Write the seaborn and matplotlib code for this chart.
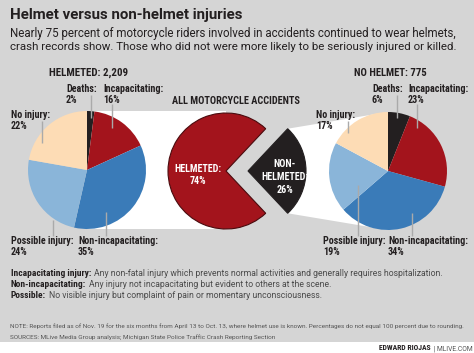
import matplotlib
matplotlib.use("Agg")
import matplotlib.pyplot as plt
from matplotlib import font_manager as fm
from matplotlib.patches import Rectangle, Polygon
import numpy as np
import seaborn as sns

# ---------------- data ----------------
categories = ["Deaths", "Incapacitating", "Non-incapacitating", "Possible injury", "No injury"]
helmeted_pct = [2, 16, 35, 24, 22]
no_helmet_pct = [6, 23, 34, 19, 17]
overall_labels = ["HELMETED", "NON-HELMETED"]
overall_pct = [74, 26]
helmeted_total = "2,209"
no_helmet_total = "775"

title = "Helmet versus non-helmet injuries"
subtitle = ["Nearly 75 percent of motorcycle riders involved in accidents continued to wear helmets,",
            "crash records show. Those who did not were more likely to be seriously injured or killed."]
definitions = [("Incapacitating injury:", "Any non-fatal injury which prevents normal activities and generally requires hospitalization."),
               ("Non-incapacitating:", "Any injury not incapacitating but evident to others at the scene."),
               ("Possible:", "No visible injury but complaint of pain or momentary unconsciousness.")]
note = ("NOTE: Reports filed as of Nov. 19 for the six months from April 13 to Oct. 13, where helmet use is known. "
        "Percentages do not equal 100 percent due to rounding.")
sources = "SOURCES: MLive Media Group analysis; Michigan State Police Traffic Crash Reporting Section"
credit_bold = "EDWARD RIOJAS"
credit_reg = " | MLIVE.COM"

# ---------------- style ----------------
sns.set_theme(style="white")
names = {f.name for f in fm.fontManager.ttflist}
def pick(cands):
    for c in cands:
        if c in names:
            return c
    return "DejaVu Sans"
COND = pick(["Liberation Sans Narrow", "Roboto Condensed", "Roboto", "Open Sans"])
REG = pick(["Roboto", "Open Sans", "Lato", "DejaVu Sans"])
plt.rcParams["font.family"] = [REG, "DejaVu Sans"]

pal = sns.color_palette(["#231f20", "#a3141c", "#3a7bb8", "#8ab5d9", "#fddcb5"])
RED = pal[1]
BLACK = pal[0]
GRAY = "#d5d5d5"
DARK = "#231f20"

W, H = 474, 353
fig = plt.figure(figsize=(W / 100, H / 100), dpi=100)
fig.patch.set_facecolor("white")
ax = fig.add_axes([0, 0, 1, 1])
renderer = fig.canvas.get_renderer()

def Y(y):
    return H - y

def txt(x, y, s, size=7, width=None, ha="left", va="baseline", **kw):
    t = ax.text(x, Y(y), s, fontsize=size, ha=ha, va=va, zorder=6, **kw)
    if width is not None:
        w = t.get_window_extent(renderer).width
        t.set_fontsize(size * width / w)
    return t

def width_of(t):
    return t.get_window_extent(renderer).width

# background panel
ax.add_patch(Rectangle((0, Y(342)), W, 342, color=GRAY, zorder=0, lw=0))

# layout constants
LC, LR = (87, 170), 59
MC, MR = (226, 171), 58
RC, RR = (388, 171), 59
explode_px = 22

# white connector behind left pie -> middle pie
ax.add_patch(Rectangle((LC[0], Y(LC[1] + LR)), MC[0] - LC[0], 2 * LR, color="white", lw=0, zorder=1))

# white connector from exploded black wedge -> right pie
half = overall_pct[1] / sum(overall_pct) * 180
bx = MC[0] + explode_px
tip_dx = MR * np.cos(np.radians(half))
tip_dy = MR * np.sin(np.radians(half))
poly = [(bx + tip_dx, Y(MC[1] - tip_dy)), (RC[0], Y(RC[1] - RR)),
        (RC[0], Y(RC[1] + RR)), (bx + tip_dx, Y(MC[1] + tip_dy))]
ax.add_patch(Polygon(poly, closed=True, color="white", lw=0, zorder=1))

# pies
ax.pie(helmeted_pct, colors=pal, startangle=90, counterclock=False,
       center=(LC[0], Y(LC[1])), radius=LR, wedgeprops=dict(linewidth=0, zorder=2))
ax.pie(no_helmet_pct, colors=pal, startangle=90, counterclock=False,
       center=(RC[0], Y(RC[1])), radius=RR, wedgeprops=dict(linewidth=0, zorder=2))
wedges, _ = ax.pie(overall_pct, colors=[RED, BLACK], startangle=half, counterclock=True,
                   explode=[0, explode_px], center=(MC[0], Y(MC[1])), radius=MR,
                   wedgeprops=dict(linewidth=0.8, edgecolor="#4a0b0e", zorder=2))
wedges[1].set_edgecolor(BLACK)

ax.set_xlim(0, W)
ax.set_ylim(0, H)
ax.set_aspect("auto")
ax.axis("off")

# title / subtitle
txt(10, 19.5, title, size=10, width=233, weight="bold", color=DARK)
txt(10, 37.3, subtitle[0], size=7, width=447, color=DARK)
txt(10, 50.2, subtitle[1], size=7, width=445, color=DARK)

# headers
cond = dict(family=[COND, "DejaVu Sans"], weight="bold", color=DARK)
h1 = txt(88.5, 76, f"HELMETED: {helmeted_total}", size=8, width=73, ha="center", **cond)
h1.set_fontsize(h1.get_fontsize() * 1.08)
h2 = txt(390.5, 76, f"NO HELMET: {no_helmet_total}", size=8, width=67, ha="center", **cond)
h2.set_fontsize(h2.get_fontsize() * 1.08)
h3 = txt(236, 103.5, "ALL MOTORCYCLE ACCIDENTS", size=8, width=118, ha="center", **cond)
h3.set_fontsize(h3.get_fontsize() * 1.08)

# pie labels: common size fitted on the longest label, slightly enlarged
probe = txt(0, -50, "Non-incapacitating:", size=6, width=72, **cond)
lsize = probe.get_fontsize() * 1.1
probe.remove()

# (text x, baseline y of first line, leader x, leader y0, leader y1)
left_pos = [(66, 92, 91, 95, 118), (103, 92, 112, 104, 128), (78, 244, 106, 212, 236),
            (11, 244, 53, 220, 236), (11, 118, 42, 121, 143)]
right_pos = [(372, 92, 397, 95, 118), (408, 92, 417, 104, 128), (388, 244, 412, 213, 236),
             (323, 244, 358, 185, 236), (316, 118, 348, 121, 133)]
for vals, pos in [(helmeted_pct, left_pos), (no_helmet_pct, right_pos)]:
    for cat, v, (tx, ty, lx, ly0, ly1) in zip(categories, vals, pos):
        txt(tx, ty, cat + ":", size=lsize, **cond)
        txt(tx, ty + 11, f"{v}%", size=lsize, **cond)
        ax.plot([lx, lx], [Y(ly0), Y(ly1)], color="#aaaaaa", lw=1.0, zorder=4,
                solid_capstyle="butt")

# middle pie labels
wcond = dict(family=[COND, "DejaVu Sans"], weight="bold", color="white")
txt(198, 172, overall_labels[0] + ":", size=lsize, ha="center", **wcond)
txt(198, 184, f"{overall_pct[0]}%", size=lsize, ha="center", **wcond)
txt(285, 167, "NON-", size=lsize, ha="center", **wcond)
txt(285, 180, overall_labels[1].split("-")[1] + ":", size=lsize, ha="center", **wcond)
txt(285, 193, f"{overall_pct[1]}%", size=lsize, ha="center", **wcond)

# definitions: common sizes fitted on the first line
def_y = [275.7, 286.7, 297.7]
b0 = txt(11, def_y[0], definitions[0][0], size=7, width=70, **cond)
bsize = b0.get_fontsize() * 1.15
b0.set_fontsize(bsize)
r0 = txt(11 + width_of(b0) + 2.5, def_y[0], definitions[0][1], size=6.5,
         width=437 - (11 + width_of(b0) + 2.5), color="#4a4a4a")
rsize = r0.get_fontsize()
for (b, r), by in zip(definitions[1:], def_y[1:]):
    tb = txt(11, by, b, size=bsize, **cond)
    txt(11 + width_of(tb) + 2.5, by, r, size=rsize, color="#4a4a4a")

txt(10, 328, note, size=4.5, width=449, color="#555555")
txt(10, 339, sources, size=4.5, width=264, color="#555555")

# credit
txt(473, 350, credit_reg, size=5, width=42, ha="right", color="#555555")
txt(431, 350, credit_bold, size=5, width=52, ha="right", **cond)

fig.savefig("out.png", dpi=100, facecolor=fig.get_facecolor())
